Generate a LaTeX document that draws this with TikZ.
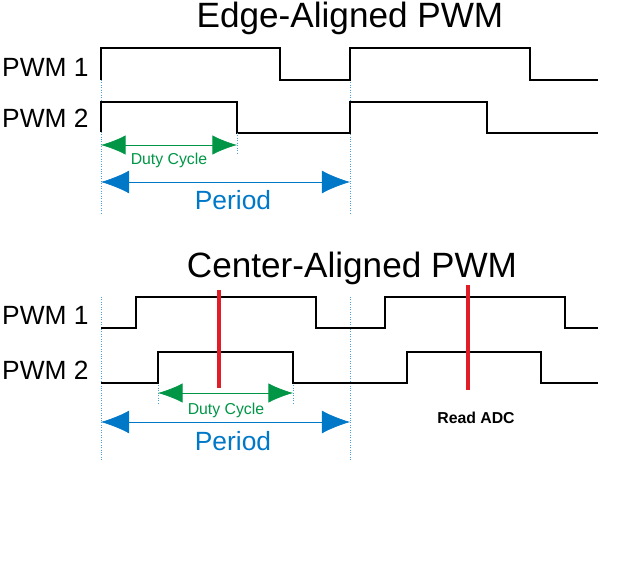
\documentclass[tikz,border=0pt]{standalone}
\usepackage{fontspec}
\setmainfont{Liberation Sans}
\usetikzlibrary{arrows.meta}
\definecolor{dutygreen}{RGB}{0,150,70}
\definecolor{periodblue}{RGB}{0,120,200}
\definecolor{adcred}{RGB}{225,30,40}
\tikzset{
  wave/.style={line width=1.3pt, black},
  guide/.style={periodblue!70, densely dotted, thin},
  duty/.style={dutygreen, {Latex[length=14pt,width=11pt]}-{Latex[length=14pt,width=11pt]}},
  period/.style={periodblue, {Latex[length=16pt,width=13pt]}-{Latex[length=16pt,width=13pt]}},
  adc/.style={adcred, line width=2.5pt},
  title/.style={font=\fontsize{20}{22}\selectfont},
  siglabel/.style={font=\fontsize{15}{17}\selectfont, anchor=west}
}
\begin{document}
\begin{tikzpicture}[x=0.02cm,y=-0.02cm]
    \useasboundingbox (0,0) rectangle (642,571);

    % edge-aligned
    \node[title] (t1) at (350,18) {Edge-Aligned PWM};
    \node[siglabel] (e1) at (-4,67) {PWM 1};
    \node[siglabel] (e2) at (-4,118) {PWM 2};
    \coordinate (eL) at (101,48);
    \coordinate (eLb) at (101,215);
    \coordinate (eR) at (350,48);
    \coordinate (eRb) at (350,215);
    \draw[guide] (eL) -- (eLb);
    \draw[guide] (eR) -- (eRb);
    \draw[wave] (101,80) -- (101,48) -- (280,48) -- (280,80) -- (350,80) -- (350,48)
        -- (530,48) -- (530,80) -- (598,80);
    \draw[wave] (101,132) -- (101,102) -- (237,102) -- (237,133) -- (350,133) -- (350,102)
        -- (487,102) -- (487,133) -- (598,133);
    \coordinate (ed1) at (101,145);
    \coordinate (ed2) at (237,145);
    \draw[guide] (237,133) -- (237,155);
    \draw[duty] (ed1) -- (ed2);
    \node[dutygreen, font=\small] (edl) at (169,160) {Duty Cycle};
    \coordinate (ep1) at (101,182);
    \coordinate (ep2) at (350,182);
    \draw[period] (ep1) -- (ep2);
    \node[periodblue, font=\fontsize{15}{17}\selectfont] (epl) at (233,200) {Period};

    % center-aligned
    \node[title] (t2) at (352,268) {Center-Aligned PWM};
    \node[siglabel] (c1) at (-4,315) {PWM 1};
    \node[siglabel] (c2) at (-4,370) {PWM 2};
    \coordinate (cL) at (101,297);
    \coordinate (cLb) at (101,460);
    \coordinate (cR) at (350,297);
    \coordinate (cRb) at (350,460);
    \draw[guide] (cL) -- (cLb);
    \draw[guide] (cR) -- (cRb);
    \draw[guide] (158,383) -- (158,405);
    \draw[guide] (293,383) -- (293,405);
    \draw[wave] (101,328) -- (136,328) -- (136,297) -- (316,297) -- (316,328) -- (385,328)
        -- (385,297) -- (565,297) -- (565,328) -- (598,328);
    \draw[wave] (101,383) -- (158,383) -- (158,352) -- (293,352) -- (293,383) -- (407,383)
        -- (407,352) -- (541,352) -- (541,383) -- (598,383);
    \coordinate (a1t) at (219,290);
    \coordinate (a1b) at (219,388);
    \coordinate (a2t) at (468,285);
    \coordinate (a2b) at (468,390);
    \draw[adc] (a1t) -- (a1b);
    \draw[adc] (a2t) -- (a2b);
    \node[font=\small\bfseries] (adcl) at (476,418) {Read ADC};
    \coordinate (cd1) at (158,393);
    \coordinate (cd2) at (293,393);
    \draw[duty] (cd1) -- (cd2);
    \node[dutygreen, font=\small] (cdl) at (226,410) {Duty Cycle};
    \coordinate (cp1) at (101,422);
    \coordinate (cp2) at (350,422);
    \draw[period] (cp1) -- (cp2);
    \node[periodblue, font=\fontsize{15}{17}\selectfont] (cpl) at (233,441) {Period};
\end{tikzpicture}
\end{document}
